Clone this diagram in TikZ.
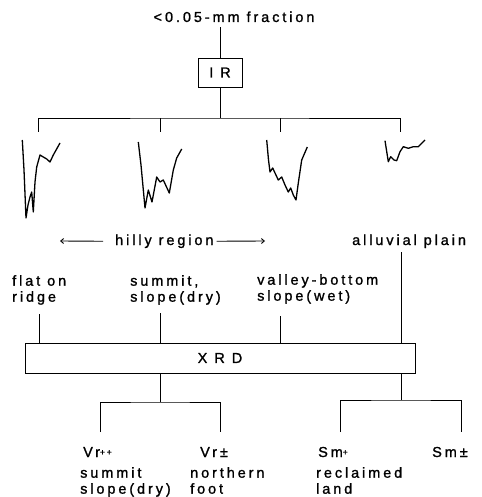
\documentclass[tikz,border=0pt]{standalone}
\usepackage{fontspec}
\newfontfamily\lblfont[LetterSpace=20, FakeBold=1.2]{Liberation Sans}
\usetikzlibrary{positioning, arrows.meta}
\tikzset{
	labelnode/.style={
			font=\lblfont\fontsize{14.5}{16}\selectfont,
			inner sep=0pt,
			align=left
		},
	boxnode/.style={
			labelnode,
			draw=black,
			line width=0.9pt
		},
	branch/.style={
			line width=0.9pt
		},
	spectrum/.style={
			line width=1.3pt,
			line join=round
		},
	regionarrow/.style={
			line width=0.9pt,
			-{Straight Barb[length=3pt,width=5pt]}
		}
}
\newcommand{\smallplus}[1]{\raisebox{2pt}{\fontsize{8.5}{8.5}\selectfont #1}}

\begin{document}
\begin{tikzpicture}[x=1pt, y=-1pt]
\useasboundingbox (0,0) rectangle (481,497);

\node[labelnode, anchor=base, outer sep=5pt] (frac) at (234,22) {<\kern3pt0.05-mm fraction};
\node[boxnode, minimum width=44pt, minimum height=29pt] (ir) at (220,72.5) {I R};

\coordinate (irbus) at (220,118);
\coordinate (t1) at (38,132);
\coordinate (t2) at (160,132);
\coordinate (t3) at (280,132);
\coordinate (t4) at (400,132);

\draw[branch] (frac.south -| ir.north) -- (ir.north);
\draw[branch] (ir.south) -- (irbus);
\draw[branch] (t1) |- (irbus) -| (t4);
\draw[branch] (t2) -- (t2 |- irbus);
\draw[branch] (t3) -- (t3 |- irbus);

\draw[spectrum] (22.3,140) -- (24,170) -- (26,218) -- (28,205) -- (30,197) -- (31.7,192) -- (33.3,212) -- (35,182) -- (36.7,167) -- (40,155) -- (43.3,157) -- (46.7,159) -- (50,162) -- (53.3,155) -- (60,143);
\draw[spectrum] (138.3,142) -- (141,165) -- (145,208) -- (148.3,190) -- (152,202) -- (156.7,177) -- (160,182) -- (163.3,180) -- (169.3,193) -- (173.3,170) -- (176.7,158) -- (181.7,149);
\draw[spectrum] (266.7,140) -- (268.5,160) -- (270,172) -- (272.7,168) -- (275,173) -- (278.3,180) -- (281.7,177) -- (285,185) -- (288.3,192) -- (290.7,188) -- (293.3,195) -- (296,200) -- (298.3,183) -- (301.7,160) -- (307.3,147);
\draw[spectrum] (385,140.7) -- (388.3,161.7) -- (390.7,156.7) -- (394,160) -- (396.7,160.7) -- (400,151.7) -- (403.3,146.7) -- (408.3,148.3) -- (413.3,146.7) -- (418.3,146.7) -- (425,140);

\node[labelnode, anchor=base west] (hilly) at (115,245) {hilly region};
\node[labelnode, anchor=base west] (alluvial) at (352,245) {alluvial plain};
\coordinate (hl) at (60,241);
\coordinate (hr) at (265,241);
\draw[regionarrow] ([xshift=-12pt]hilly.west) -- (hl);
\draw[regionarrow] ([xshift=3pt]hilly.east) -- (hr);

\node[labelnode, anchor=north west] (flat) at (12,275) {flat on\\ridge};
\node[labelnode, anchor=north west] (summit) at (130,275) {summit,\\slope(dry)};
\node[labelnode, anchor=north west] (valley) at (257,274) {valley-bottom\\slope(wet)};

\node[boxnode, minimum width=390pt, minimum height=30pt] (xrd) at (220,358) {X\hspace{7pt}R\hspace{7pt}D};

\coordinate (f1) at (39,314);
\coordinate (s1) at (160,313);
\coordinate (v1) at (280,316);
\coordinate (a1) at (401,252);
\draw[branch] (f1) -- (f1 |- xrd.north);
\draw[branch] (s1) -- (s1 |- xrd.north);
\draw[branch] (v1) -- (v1 |- xrd.north);
\draw[branch] (a1) -- (a1 |- xrd.north);

\coordinate (lb) at (160,402);
\coordinate (vl) at (100,432);
\coordinate (vr) at (220,432);
\coordinate (rb) at (401,400);
\coordinate (sl) at (340,432);
\coordinate (sr) at (461,432);
\draw[branch] (xrd.south -| lb) -- (lb);
\draw[branch] (vl) |- (lb) -| (vr);
\draw[branch] (xrd.south -| rb) -- (rb);
\draw[branch] (sl) |- (rb) -| (sr);

\node[labelnode, anchor=base west] (vrpp) at (83,457) {Vr\smallplus{++}};
\node[labelnode, anchor=base west] (vrpm) at (200,457) {Vr±};
\node[labelnode, anchor=base west] (smp) at (318,457) {Sm\smallplus{+}};
\node[labelnode, anchor=base west] (smpm) at (432,457) {Sm±};

\node[labelnode, anchor=north west] (sumdry) at (80,467) {summit\\slope(dry)};
\node[labelnode, anchor=north west] (northern) at (190,467) {northern\\foot};
\node[labelnode, anchor=north west] (reclaimed) at (316,467) {reclaimed\\land};
\end{tikzpicture}
\end{document}
